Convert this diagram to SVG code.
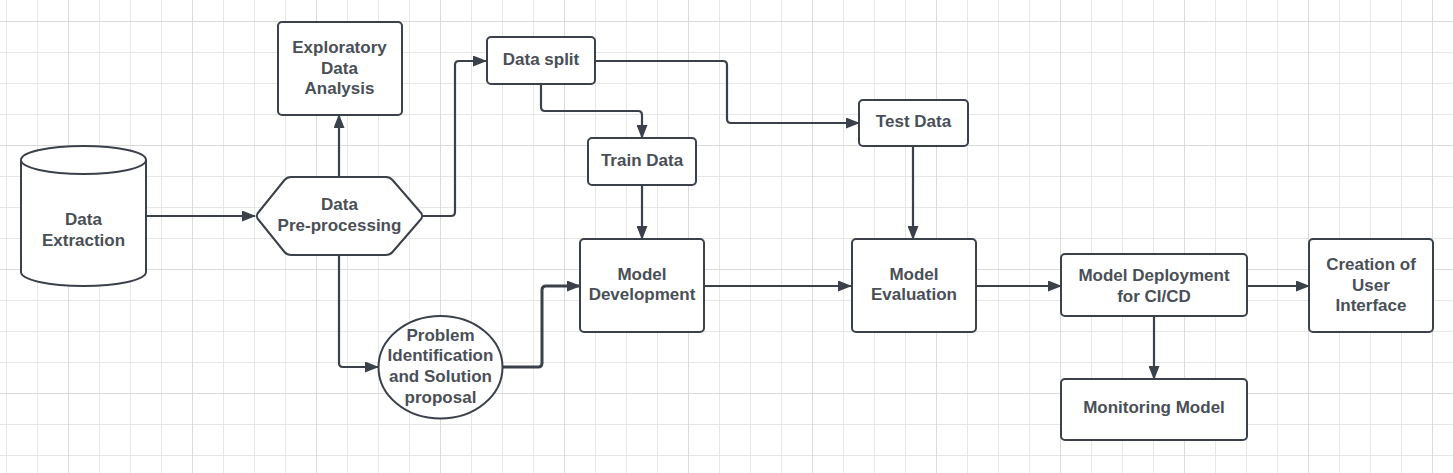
<svg xmlns="http://www.w3.org/2000/svg" width="1453" height="473" viewBox="0 0 1453 473">
<style>
.n{fill:#fff;stroke:#3a414a;stroke-width:2;stroke-linejoin:round}
.t{font-family:"Liberation Sans",Arial,sans-serif;font-weight:bold;font-size:17px;fill:#4a4f57;text-anchor:middle}
.c{fill:none;stroke:#3a414a;stroke-width:2.2;marker-end:url(#ah)}
</style>
<defs>
<pattern id="gmin" x="6" y="21" width="31" height="31" patternUnits="userSpaceOnUse"><path d="M0.5 0V31M0 0.5H31" fill="none" stroke="#e7e7e7" stroke-width="1"/></pattern>
<pattern id="gmaj" x="68" y="21" width="124" height="124" patternUnits="userSpaceOnUse"><path d="M0.5 0V124M0 0.5H124" fill="none" stroke="#dadada" stroke-width="1"/></pattern>
<marker id="ah" viewBox="0 0 14 11" refX="13" refY="5.5" markerWidth="14" markerHeight="11" markerUnits="userSpaceOnUse" orient="auto"><path d="M0 0L14 5.5L0 11Z" fill="#3a414a"/></marker>
</defs>
<rect width="1453" height="473" fill="#fff"/>
<rect width="1453" height="473" fill="url(#gmin)"/>
<rect width="1453" height="473" fill="url(#gmaj)"/>
<g id="connectors">
<path class="c" d="M146 216H255"/>
<path class="c" d="M339 177V115"/>
<path class="c" d="M423 216H451Q455 216 455 212V65Q455 61 459 61H486"/>
<path class="c" d="M541 84V107Q541 111 545 111H638Q642 111 642 115V138"/>
<path class="c" d="M595 61H723Q727 61 727 65V119Q727 123 731 123H859"/>
<path class="c" d="M642 185V239"/>
<path class="c" d="M913 146V239"/>
<path class="c" d="M704 286H851"/>
<path class="c" d="M976 286H1061"/>
<path class="c" d="M1247 286H1309"/>
<path class="c" d="M1154 316V379"/>
<path class="c" d="M339 255V363Q339 367 343 367H378"/>
<path class="c" style="stroke-width:3" d="M503 367H538Q542 367 542 363V290Q542 286 546 286H580"/>
</g>
<g id="data-extraction">
<path class="n" d="M21 160A62.5 14 0 0 1 146 160V272A62.5 14 0 0 1 21 272Z"/>
<path class="n" style="fill:none" d="M21 160A62.5 14 0 0 0 146 160"/>
<text class="t" x="83.5" y="224.5">Data</text>
<text class="t" x="83.5" y="245.5">Extraction</text>
</g>
<g id="eda">
<rect class="n" x="278" y="22" width="124" height="93" rx="4"/>
<text class="t" x="339.5" y="53">Exploratory</text>
<text class="t" x="339.5" y="73.5">Data</text>
<text class="t" x="339.5" y="94">Analysis</text>
</g>
<g id="preprocessing">
<path class="n" d="M257.5 218.5Q256 216 257.5 213.5L284.5 180Q287 177 291 177H386Q390 177 392.5 180L421.5 213.5Q423 216 421.5 218.5L392.5 252Q390 255 386 255H291Q287 255 284.5 252Z"/>
<text class="t" x="339.5" y="210">Data</text>
<text class="t" x="339.5" y="231">Pre-processing</text>
</g>
<g id="data-split">
<rect class="n" x="487" y="37" width="108" height="47" rx="4"/>
<text class="t" x="541" y="65">Data split</text>
</g>
<g id="train-data">
<rect class="n" x="588" y="138" width="108" height="47" rx="4"/>
<text class="t" x="642" y="165.5">Train Data</text>
</g>
<g id="test-data">
<rect class="n" x="859" y="100" width="109" height="46" rx="4"/>
<text class="t" x="913.5" y="127">Test Data</text>
</g>
<g id="problem">
<ellipse class="n" cx="440.5" cy="367.3" rx="62" ry="51.3"/>
<text class="t" x="440.5" y="340.5">Problem</text>
<text class="t" x="440.5" y="361">Identification</text>
<text class="t" x="440.5" y="382">and Solution</text>
<text class="t" x="440.5" y="402.5">proposal</text>
</g>
<g id="model-development">
<rect class="n" x="580" y="239" width="124" height="93" rx="4"/>
<text class="t" x="642" y="279.5">Model</text>
<text class="t" x="642" y="300">Development</text>
</g>
<g id="model-evaluation">
<rect class="n" x="852" y="239" width="124" height="93" rx="4"/>
<text class="t" x="914" y="279.5">Model</text>
<text class="t" x="914" y="300">Evaluation</text>
</g>
<g id="model-deployment">
<rect class="n" x="1061" y="254" width="186" height="62" rx="4"/>
<text class="t" x="1154" y="281">Model Deployment</text>
<text class="t" x="1154" y="302">for CI/CD</text>
</g>
<g id="user-interface">
<rect class="n" x="1309" y="239" width="124" height="93" rx="4"/>
<text class="t" x="1371" y="270">Creation of</text>
<text class="t" x="1371" y="290.5">User</text>
<text class="t" x="1371" y="311">Interface</text>
</g>
<g id="monitoring">
<rect class="n" x="1061" y="379" width="186" height="61" rx="4"/>
<text class="t" x="1154" y="413">Monitoring Model</text>
</g>
</svg>
